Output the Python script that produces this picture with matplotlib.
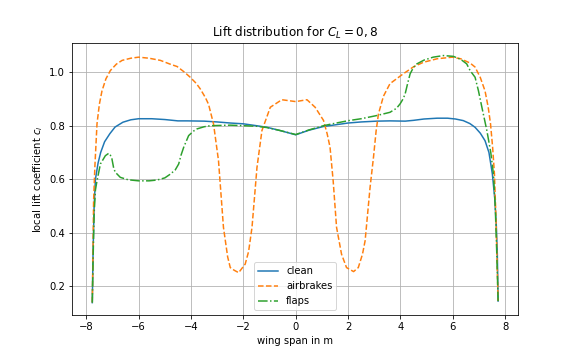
import matplotlib
matplotlib.use("Agg")
import matplotlib.pyplot as plt

# values
clean_x = [-7.77, -7.74, -7.7, -7.65, -7.55, -7.45, -7.3, -7.1, -6.9, -6.6, -6.3, -6.0,
           -5.5, -5.0, -4.5, -4.15, -3.5, -3.0, -2.5, -2.0, -1.5, -1.1, -0.6, 0.0,
           0.5, 1.06, 1.5, 2.0, 2.5, 3.1, 3.6, 4.18, 4.5, 4.9, 5.4, 5.8, 6.1, 6.4,
           6.65, 6.85, 7.05, 7.23, 7.38, 7.51, 7.6, 7.66, 7.7, 7.73]
clean_y = [0.139, 0.33, 0.5, 0.6, 0.66, 0.7, 0.74, 0.77, 0.795, 0.813, 0.822, 0.826,
           0.826, 0.823, 0.818, 0.818, 0.817, 0.814, 0.81, 0.807, 0.8, 0.794, 0.782, 0.766,
           0.783, 0.797, 0.803, 0.81, 0.814, 0.817, 0.818, 0.817, 0.82, 0.825, 0.828, 0.828,
           0.825, 0.819, 0.808, 0.794, 0.772, 0.744, 0.70, 0.62, 0.53, 0.43, 0.32, 0.145]

airbrakes_x = [-7.77, -7.74, -7.72, -7.67, -7.59, -7.5, -7.4, -7.25, -7.08, -6.85, -6.63,
               -6.3, -6.0, -5.6, -5.17, -4.8, -4.53, -4.25, -4.03, -3.8, -3.65, -3.45,
               -3.33, -3.14, -2.95, -2.76, -2.6, -2.5, -2.35, -2.18, -1.93, -1.8, -1.67,
               -1.48, -1.29, -0.97, -0.53, 0.0, 0.43, 0.74, 1.06, 1.2, 1.31, 1.43, 1.56,
               1.75, 1.94, 2.21, 2.39, 2.55, 2.65, 2.84, 2.97, 3.07, 3.16, 3.35, 3.6,
               4.11, 4.5, 4.88, 5.4, 5.98, 6.3, 6.66, 6.85, 7.05, 7.23, 7.35, 7.44,
               7.52, 7.59, 7.65, 7.69, 7.73]
airbrakes_y = [0.14, 0.35, 0.52, 0.65, 0.807, 0.88, 0.93, 0.975, 1.006, 1.03, 1.044,
               1.052, 1.056, 1.052, 1.044, 1.03, 1.021, 1.0, 0.981, 0.958, 0.938, 0.905,
               0.88, 0.807, 0.67, 0.42, 0.31, 0.27, 0.26, 0.251, 0.283, 0.33, 0.42,
               0.644, 0.782, 0.869, 0.897, 0.89, 0.897, 0.869, 0.82, 0.77, 0.72, 0.594, 0.42,
               0.32, 0.27, 0.255, 0.27, 0.32, 0.37, 0.57, 0.682, 0.78, 0.844, 0.91, 0.957,
               0.994, 1.02, 1.037, 1.05, 1.056, 1.05, 1.034, 1.019, 0.98, 0.93, 0.87, 0.807,
               0.72, 0.62, 0.45, 0.3, 0.145]

flaps_x = [-7.77, -7.74, -7.7, -7.65, -7.59, -7.46, -7.27, -7.14, -7.08, -7.02, -6.95,
           -6.89, -6.7, -6.4, -6.0, -5.6, -5.3, -5.0, -4.79, -4.6, -4.47, -4.38, -4.28,
           -4.09, -3.9, -3.77, -3.5, -3.26, -2.5, -2.0, -1.5, -1.1, -0.6, 0.0, 0.5,
           1.06, 1.5, 2.02, 2.5, 3.1, 3.6, 3.85, 3.99, 4.1, 4.18, 4.28, 4.37, 4.5, 4.63,
           4.9, 5.25, 5.64, 6.02, 6.3, 6.53, 6.66, 6.85, 6.98, 7.11, 7.3, 7.45, 7.55,
           7.62, 7.68, 7.73]
flaps_y = [0.139, 0.3, 0.47, 0.56, 0.594, 0.657, 0.688, 0.697, 0.69, 0.676, 0.64,
           0.626, 0.607, 0.598, 0.594, 0.594, 0.597, 0.605, 0.619, 0.635, 0.657, 0.69, 0.719,
           0.763, 0.78, 0.788, 0.796, 0.8, 0.802, 0.8, 0.798, 0.793, 0.782, 0.767, 0.784,
           0.8, 0.809, 0.819, 0.826, 0.838, 0.85, 0.865, 0.882, 0.9, 0.919, 0.96, 0.994, 1.018, 1.031,
           1.045, 1.056, 1.062, 1.059, 1.048, 1.031, 1.006, 0.981, 0.93, 0.869, 0.782, 0.7, 0.62,
           0.5, 0.32, 0.145]

fig = plt.figure(figsize=(8, 5), dpi=72)
fig.subplots_adjust(bottom=0.125)

plt.plot(clean_x, clean_y, label="clean")
plt.plot(airbrakes_x, airbrakes_y, "--", label="airbrakes")
plt.plot(flaps_x, flaps_y, "-.", label="flaps")

plt.title(r"Lift distribution for $C_L = 0,8$")
plt.xlabel("wing span in m")
plt.ylabel("local lift coefficient $c_l$")
plt.grid()
plt.legend(loc="lower center")

plt.savefig("out.png", dpi=72)
